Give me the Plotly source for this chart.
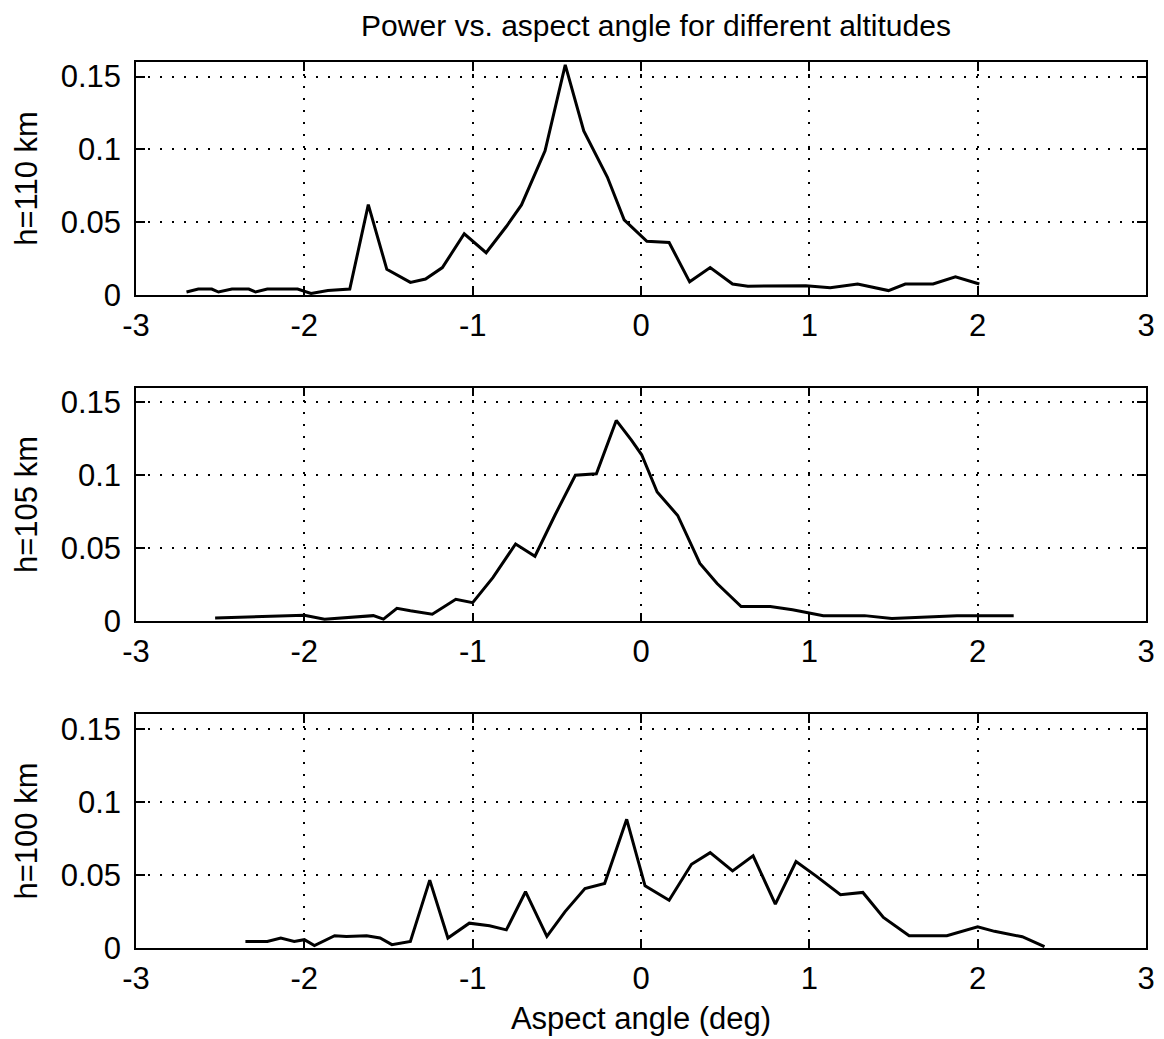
import plotly.graph_objects as go
from plotly.subplots import make_subplots

# ---- data ----
x110 = [-2.70, -2.63, -2.55, -2.51, -2.43, -2.33, -2.29, -2.22, -2.04, -1.96, -1.86, -1.73,
        -1.62, -1.51, -1.37, -1.28, -1.18, -1.05, -0.92, -0.80, -0.71, -0.57, -0.45, -0.34,
        -0.20, -0.10, 0.035, 0.167, 0.289, 0.411, 0.544, 0.635, 0.98, 1.124, 1.287, 1.47,
        1.57, 1.735, 1.868, 2.01]
y110 = [0.002, 0.004, 0.004, 0.002, 0.004, 0.004, 0.002, 0.004, 0.004, 0.001, 0.003, 0.004,
        0.062, 0.0176, 0.0086, 0.0109, 0.0188, 0.042, 0.029, 0.047, 0.0618, 0.099, 0.158, 0.1127,
        0.081, 0.0516, 0.0369, 0.036, 0.009, 0.0188, 0.0075, 0.006, 0.0063, 0.005, 0.0075, 0.003,
        0.0075, 0.0075, 0.0124, 0.0075]

x105 = [-2.53, -2.16, -2.00, -1.88, -1.73, -1.59, -1.53, -1.45, -1.37, -1.24, -1.10, -1.00,
        -0.88, -0.745, -0.63, -0.51, -0.39, -0.265, -0.147, -0.057, 0.004, 0.096, 0.218, 0.35,
        0.452, 0.595, 0.768, 0.90, 1.083, 1.328, 1.49, 1.877, 2.214]
y105 = [0.0023, 0.0039, 0.0043, 0.0016, 0.0027, 0.004, 0.0016, 0.009, 0.0073, 0.005, 0.0152, 0.0129,
        0.030, 0.053, 0.0446, 0.073, 0.100, 0.101, 0.1375, 0.124, 0.114, 0.0885, 0.0725, 0.0397,
        0.026, 0.0102, 0.0102, 0.008, 0.004, 0.004, 0.002, 0.004, 0.004]

x100 = [-2.35, -2.22, -2.14, -2.06, -2.00, -1.94, -1.82, -1.75, -1.63, -1.55, -1.48, -1.37,
        -1.255, -1.147, -1.02, -0.90, -0.80, -0.686, -0.559, -0.451, -0.333, -0.216, -0.085,
        0.024, 0.167, 0.30, 0.411, 0.544, 0.666, 0.798, 0.921, 1.043, 1.185, 1.318, 1.44,
        1.593, 1.817, 2.00, 2.10, 2.265, 2.397]
y100 = [0.0045, 0.0045, 0.0068, 0.0045, 0.0057, 0.0016, 0.0084, 0.0079, 0.0084, 0.0068, 0.0023, 0.0045,
        0.0464, 0.0068, 0.017, 0.0152, 0.0124, 0.0385, 0.0079, 0.0249, 0.0407, 0.0441, 0.088,
        0.0425, 0.0327, 0.0573, 0.0652, 0.0527, 0.063, 0.030, 0.0591, 0.049, 0.0364, 0.038, 0.0209,
        0.0084, 0.0084, 0.0145, 0.0114, 0.0077, 0.0009]

series = [(x110, y110, "h=110 km"), (x105, y105, "h=105 km"), (x100, y100, "h=100 km")]
xticks = [-3, -2, -1, 0, 1, 2, 3]
yticks = [0, 0.05, 0.1, 0.15]
yticklabels = ["0", "0.05", "0.1", "0.15"]

W, H = 1164, 1039
ML, MR, MT, MB = 136, 9, 62, 87
ph = H - MT - MB
# pixel rows of each panel (top, bottom)
rows_px = [(62, 296), (389, 624), (717, 952)]

fig = make_subplots(rows=3, cols=1)
FONT = "Liberation Sans, Arial, sans-serif"
FS = 31

for i, (xs, ys, lab) in enumerate(series):
    r = i + 1
    fig.add_trace(go.Scatter(x=xs, y=ys, mode="lines",
                             line=dict(color="black", width=3),
                             showlegend=False), row=r, col=1)
    top, bot = rows_px[i]
    dom = [(H - MB - bot) / ph, (H - MB - top) / ph]
    fig.update_xaxes(row=r, col=1, range=[-3, 3], tickvals=xticks,
                     ticktext=[str(t) for t in xticks],
                     showgrid=True, gridcolor="black", gridwidth=1.5, griddash="2px,10px",
                     showline=True, linecolor="black", linewidth=1.5, mirror="ticks",
                     ticks="inside", ticklen=9, tickwidth=1.5, tickcolor="black",
                     ticklabelstandoff=2,
                     zeroline=False, tickfont=dict(size=FS, color="black", family=FONT))
    fig.update_yaxes(row=r, col=1, range=[0, 0.16], domain=dom, tickvals=yticks,
                     ticktext=yticklabels,
                     showgrid=True, gridcolor="black", gridwidth=1.5, griddash="2px,10px",
                     showline=True, linecolor="black", linewidth=1.5, mirror="ticks",
                     ticks="inside", ticklen=9, tickwidth=1.5, tickcolor="black",
                     ticklabelstandoff=7,
                     zeroline=False, tickfont=dict(size=FS, color="black", family=FONT),
                     title=dict(text=lab, font=dict(size=FS, color="black", family=FONT),
                                standoff=14))

fig.update_xaxes(row=3, col=1, title=dict(text="Aspect angle (deg)",
                                          font=dict(size=FS, color="black", family=FONT),
                                          standoff=12))

fig.update_layout(
    width=W, height=H,
    margin=dict(l=ML, r=MR, t=MT, b=MB),
    paper_bgcolor="white", plot_bgcolor="white",
    title=dict(text="Power vs. aspect angle for different altitudes",
               x=656 / W, xanchor="center",
               y=1 - 25 / H, yanchor="middle",
               font=dict(size=30, color="black", family=FONT)),
)

fig.write_html("out.html")
